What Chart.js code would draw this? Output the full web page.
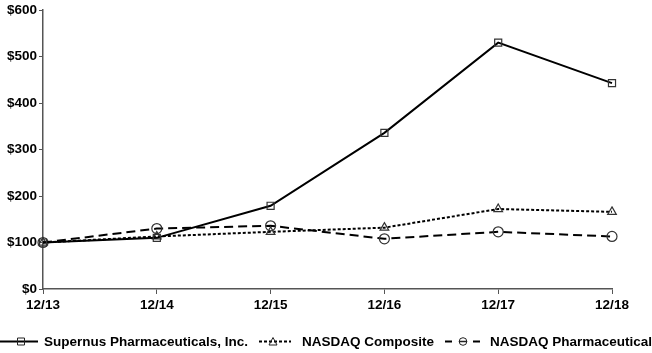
<!DOCTYPE html>
<html>
<head>
<meta charset="utf-8">
<script src="https://cdn.jsdelivr.net/npm/chart.js@4"></script>
<style>
  html, body { margin: 0; padding: 0; background: #fff; }
  #wrap { width: 652px; height: 353px; position: relative; }
</style>
</head>
<body>
<div id="wrap"><canvas id="perfChart"></canvas></div>
<script>
// Data
const periods = ['12/13', '12/14', '12/15', '12/16', '12/17', '12/18'];
const supernus = [100, 110, 179, 336, 530, 443];
const nasdaqComposite = [100, 113, 123, 132, 172, 166];
const nasdaqPharma = [100, 130, 136, 108, 123, 113];
const yTicks = [0, 100, 200, 300, 400, 500, 600];

const FONT_FAMILY = '"Liberation Sans", Arial, sans-serif';
const FONT = 'bold 13.5px ' + FONT_FAMILY;

// Series styles (shared with the legend plugin)
const series = [
    { label: 'Supernus Pharmaceuticals, Inc.', data: supernus, dash: [], width: 2, marker: 'rect' },
    { label: 'NASDAQ Composite', data: nasdaqComposite, dash: [3, 2], width: 2, marker: 'triangle' },
    { label: 'NASDAQ Pharmaceutical', data: nasdaqPharma, dash: [9, 5], width: 2, marker: 'circle' }
];

// Legend along the bottom: line sample, marker, bold text
const legendSpots = [
    { from: 0, to: 38, mark: 21, textX: 44, dash: [] },
    { from: 259, to: 291, mark: 273, textX: 302, dash: [3, 2] },
    { from: 445, to: 483, mark: 463, textX: 490, dash: [7, 21] }
];

const bottomLegend = {
    id: 'bottomLegend',
    afterDraw(chart) {
        const c = chart.ctx;
        const y = 341.5;
        c.save();
        series.forEach((s, i) => {
            const spot = legendSpots[i];
            c.strokeStyle = '#000';
            c.lineWidth = s.width;
            c.setLineDash(spot.dash);
            c.beginPath();
            c.moveTo(spot.from, y);
            c.lineTo(spot.to, y);
            c.stroke();
            c.setLineDash([]);
            c.lineWidth = 1;
            c.strokeStyle = '#222';
            const mx = spot.mark;
            c.beginPath();
            if (s.marker === 'rect') {
                c.rect(mx - 3.5, y - 3.5, 7, 7);
            } else if (s.marker === 'triangle') {
                c.moveTo(mx, y - 4);
                c.lineTo(mx + 4, y + 3.5);
                c.lineTo(mx - 4, y + 3.5);
                c.closePath();
            } else {
                c.arc(mx, y, 3.8, 0, Math.PI * 2);
            }
            c.stroke();
            if (s.marker === 'circle') {
                c.lineWidth = 1.5;
                c.beginPath();
                c.moveTo(mx - 4, y);
                c.lineTo(mx + 4, y);
                c.stroke();
            }
            c.fillStyle = '#000';
            c.font = FONT;
            c.textBaseline = 'middle';
            c.textAlign = 'left';
            c.fillText(s.label, spot.textX, y + 1);
        });
        c.restore();
    }
};

const tickFont = { family: FONT_FAMILY, size: 13.5, weight: 'bold' };

const ctx = document.getElementById('perfChart').getContext('2d');
const perfChart = new Chart(ctx, {
    type: 'line',
    data: {
        labels: periods,
        datasets: series.map(s => ({
            label: s.label,
            data: s.data,
            borderColor: '#000',
            borderWidth: s.width,
            borderDash: s.dash,
            pointStyle: s.marker,
            pointRadius: 5,
            pointBorderWidth: 1.2,
            pointBorderColor: '#333',
            pointBackgroundColor: 'rgba(255,255,255,0)',
            tension: 0,
            fill: false
        }))
    },
    options: {
        responsive: true,
        maintainAspectRatio: false,
        animation: false,
        layout: { padding: { top: 7, right: 40, left: 0, bottom: 0 } },
        plugins: {
            legend: { display: false },
            tooltip: { enabled: false }
        },
        scales: {
            x: {
                offset: false,
                grid: {
                    display: true,
                    drawOnChartArea: false,
                    drawTicks: true,
                    tickLength: 5,
                    color: '#555'
                },
                border: { color: '#555', width: 1.5 },
                ticks: {
                    color: '#000',
                    font: tickFont,
                    padding: 3,
                    maxRotation: 0,
                    autoSkip: false
                },
                afterFit(scale) { scale.height = 64; }
            },
            y: {
                min: 0,
                max: 600,
                afterBuildTicks(scale) { scale.ticks = yTicks.map(v => ({ value: v })); },
                grid: {
                    display: true,
                    drawOnChartArea: false,
                    drawTicks: true,
                    tickLength: 4,
                    color: '#555'
                },
                border: { color: '#555', width: 1.5 },
                ticks: {
                    color: '#000',
                    font: tickFont,
                    padding: 2,
                    callback: v => '$' + v
                },
                afterFit(scale) { scale.width = 43; }
            }
        }
    },
    plugins: [bottomLegend]
});
</script>
</body>
</html>
